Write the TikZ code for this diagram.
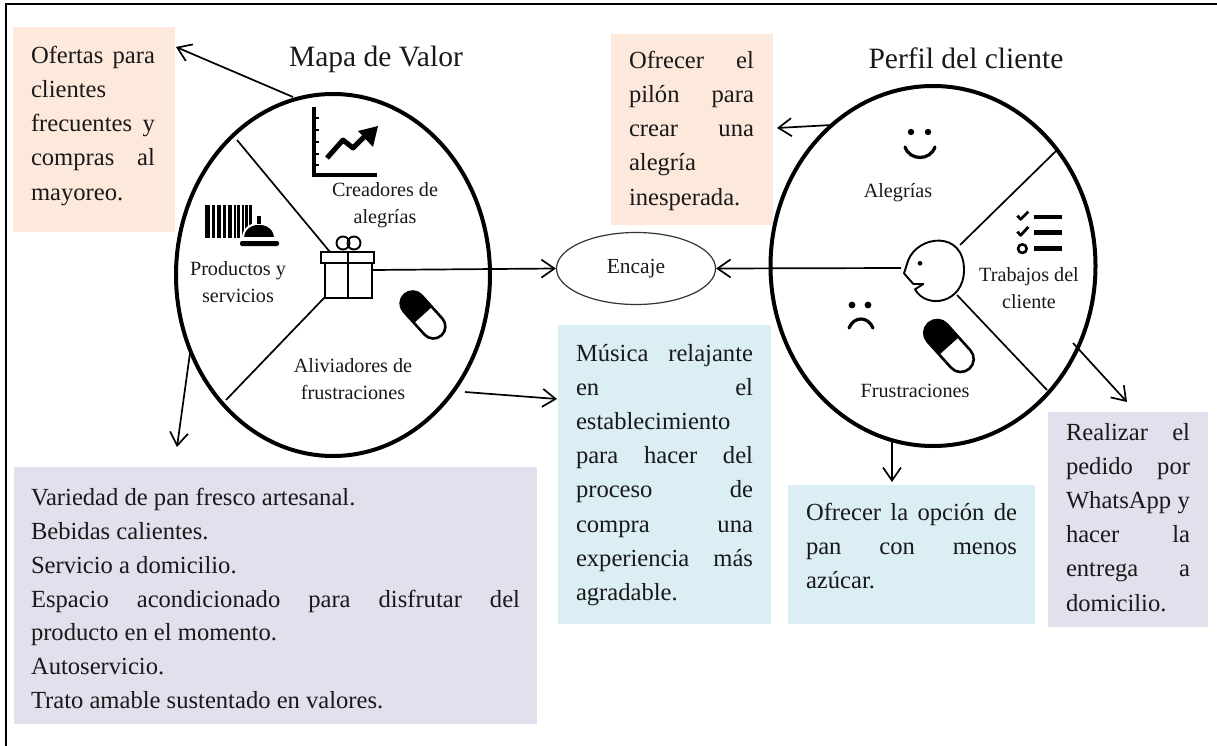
\documentclass[tikz,border=0pt]{standalone}
\usepackage{fontspec}
\setmainfont{Liberation Serif}
\usetikzlibrary{arrows.meta,shapes.geometric}
\definecolor{peach}{HTML}{FDE9DB}
\definecolor{lilac}{HTML}{E4DFEC}
\definecolor{skyb}{HTML}{DAEEF3}
\tikzset{
 x=1pt,y=-1pt,
 box/.style={anchor=north west,inner sep=0pt,outer sep=0pt,draw=none},
 body/.style={anchor=north west,inner sep=0pt,outer sep=0pt,align=left,font=\fontsize{24.6}{34.2}\selectfont,text=black!90},
 lab/.style={inner sep=0pt,align=center,font=\fontsize{20.2}{27}\selectfont,text=black!90},
 ttl/.style={inner sep=0pt,font=\fontsize{29.5}{32}\selectfont,text=black!90},
 thin line/.style={line width=1.7pt},
 conn/.style={line width=1.7pt,-{Straight Barb[length=13pt,width=18pt,line width=1.7pt]}},
 big/.style={draw,line width=4pt,ellipse},
}
\newcommand{\jl}[2]{\makebox[#1pt][s]{#2}}
% centre, half length, radius
\newcommand{\pillshape}[3]{%
 \begin{scope}[shift={#1},rotate=-48]
  \begin{scope}
   \clip[rounded corners=#3pt] (-#2,-#3) rectangle (#2,#3);
   \fill (-#2,-#3) rectangle (0,#3);
  \end{scope}
  \draw[line width=2.6pt,rounded corners=#3pt] (-#2,-#3) rectangle (#2,#3);
 \end{scope}}
\begin{document}
\begin{tikzpicture}
\useasboundingbox (0,0) rectangle (1217,746);
\fill[white] (0,0) rectangle (1217,746);
\draw[line width=2.4pt] (6,746) -- (6,4) -- (1217,4);
% boxes
\node[box,fill=peach,minimum width=162pt,minimum height=205pt] (b1) at (13,27) {};
\node[box,fill=peach,minimum width=162pt,minimum height=191pt] (b2) at (611,34) {};
\node[box,fill=lilac,minimum width=523pt,minimum height=257pt] (b3) at (14,467) {};
\node[box,fill=skyb,minimum width=213pt,minimum height=299pt] (b4) at (558,325) {};
\node[box,fill=skyb,minimum width=247pt,minimum height=139pt] (b5) at (788,485) {};
\node[box,fill=lilac,minimum width=160pt,minimum height=215pt] (b6) at (1048,412) {};
% box text
\node[body] (t1) at (31,46) {\jl{124}{Ofertas para}\\clientes\\\jl{124}{frecuentes y}\\\jl{124}{compras al}\\mayoreo.};
\node[body] (t2) at (629,51) {\jl{125}{Ofrecer el}\\\jl{125}{pilón para}\\\jl{125}{crear una}\\alegría\\inesperada.};
\node[body,font=\fontsize{24.6}{33.9}\selectfont] (t3) at (31,488) {Variedad de pan fresco artesanal.\\Bebidas calientes.\\Servicio a domicilio.\\\jl{489}{Espacio acondicionado para disfrutar del}\\producto en el momento.\\Autoservicio.\\Trato amable sustentado en valores.};
\node[body] (t4) at (576,344) {\jl{177}{Música relajante}\\\jl{177}{en el}\\establecimiento\\\jl{177}{para hacer del}\\\jl{177}{proceso de}\\\jl{177}{compra una}\\\jl{177}{experiencia más}\\agradable.};
\node[body] (t5) at (806,503) {\jl{211}{Ofrecer la opción de}\\\jl{211}{pan con menos}\\azúcar.};
\node[body] (t6) at (1066,423) {\jl{124}{Realizar el}\\\jl{124}{pedido por}\\\jl{124}{WhatsApp y}\\\jl{124}{hacer la}\\\jl{124}{entrega a}\\domicilio.};
% ellipses
\node[big,inner sep=0pt,minimum width=314pt,minimum height=362pt] (mv) at (333,275) {};
\node[big,inner sep=0pt,minimum width=325pt,minimum height=360pt] (pc) at (933,266) {};
\node[draw=black!80,ellipse,line width=1.2pt,inner sep=0pt,minimum width=159pt,minimum height=72pt,font=\fontsize{21.5}{27}\selectfont,text=black!90] (enc) at (636,268.5) {Encaje};
\node[ttl] (tv) at (376,59) {Mapa de Valor};
\node[ttl] (tp) at (966,58) {Perfil del cliente};
% labels
\node[lab] (l1) at (385,205) {Creadores de\\alegrías};
\node[lab] (l2) at (238,282) {Productos y\\servicios};
\node[lab] (l3) at (353,379) {Aliviadores de\\frustraciones};
\node[lab] (l4) at (898,193) {Alegrías};
\node[lab] (l5) at (1029,288) {Trabajos del\\cliente};
\node[lab] (l6) at (915,391) {Frustraciones};
% free ends
\coordinate (a1) at (293,97); \coordinate (a2) at (176,47);
\coordinate (a3) at (190,353); \coordinate (a4) at (177,447);
\coordinate (a5) at (465,392); \coordinate (a6) at (557,399);
\coordinate (a7) at (373,270);
\coordinate (a9) at (901,268);
\coordinate (a11) at (832,125); \coordinate (a12) at (777,128);
\coordinate (a13) at (892,442); \coordinate (a14) at (892,482);
\coordinate (a15) at (1073,343); \coordinate (a16) at (1127,402);
\coordinate (s1) at (237,140); \coordinate (s2) at (330,252);
\coordinate (s3) at (325,297); \coordinate (s4) at (226,400);
\coordinate (s5) at (1057,150); \coordinate (s6) at (960,245);
\coordinate (s7) at (957,295); \coordinate (s8) at (1047,390);
\draw[conn] (a1) -- (a2);
\draw[conn] (a3) -- (a4);
\draw[conn] (a5) -- (a6);
\draw[conn] (a7) -- (enc.west);
\draw[conn] (a9) -- (enc.east);
\draw[conn] (a11) -- (a12);
\draw[conn] (a13) -- (a14);
\draw[conn] (a15) -- (a16);
\draw[thin line] (s1) -- (s2);
\draw[thin line] (s3) -- (s4);
\draw[thin line] (s5) -- (s6);
\draw[thin line] (s7) -- (s8);
% chart icon
\draw[line width=3.4pt] (314,107) -- (314,175) -- (377,175);
\foreach \yy in {118,130,142,154,165} \draw[line width=2.5pt] (314,\yy) -- (319,\yy);
\draw[line width=5pt,line join=round] (327,158) -- (343,140) -- (353,148) -- (367,134);
\fill (378,126) -- (358,131) -- (373,147) -- cycle;
% gift icon
\begin{scope}[line width=1.9pt]
 \draw (325,263) rectangle (372,298);
 \draw (321,252) rectangle (374,263);
 \draw (348,252) -- (348,298);
 \draw (343,243) circle[radius=6.5];
 \draw (354,243) circle[radius=6.5];
\end{scope}
% barcode + bell
\foreach \xx/\ww in {205/5,212/3,217/4,223/3,228/4,234/2,237/3,242/2,245/3,249/3} \fill (\xx,205) rectangle (\xx+\ww,238);
\filldraw[draw=white,line width=2pt] (243,238) .. controls (243,219) and (275,219) .. (275,238) -- cycle;
\fill (257,216) rectangle (261,224);
\fill[rounded corners=2pt] (240,241) rectangle (279,246);
\pillshape{(423,315)}{27.5}{12}
\pillshape{(949,346)}{30.5}{13}
% smile, frown
\fill (911,132) circle[radius=3.2]; \fill (928,132) circle[radius=3.2];
\draw[line width=3.2pt,line cap=round] (905,147) .. controls (910,161) and (930,161) .. (935,147);
\fill (852,305) circle[radius=3.4]; \fill (868,305) circle[radius=3.4];
\draw[line width=3.2pt,line cap=round] (849,328) .. controls (854,316) and (868,316) .. (873,328);
% face
\begin{scope}[shift={(780,80)},scale=1/3,line width=1.9pt,line join=round]
 \draw (385,540) .. controls (415,465) and (552,450) .. (552,570) .. controls (552,670) and (440,690) .. (405,628) -- (430,612) -- (400,612) -- (372,580) -- cycle;
 \fill (420,550) circle[radius=7];
 \foreach \yy in {411,458,506} \fill (762,\yy-7) rectangle (846,\yy+7);
 \draw[line width=2.8pt] (712,407) -- (722,418) -- (745,395);
 \draw[line width=2.8pt] (712,455) -- (722,466) -- (745,441);
 \draw[line width=2.6pt] (727,506) circle[radius=13];
\end{scope}
\end{tikzpicture}
\end{document}
